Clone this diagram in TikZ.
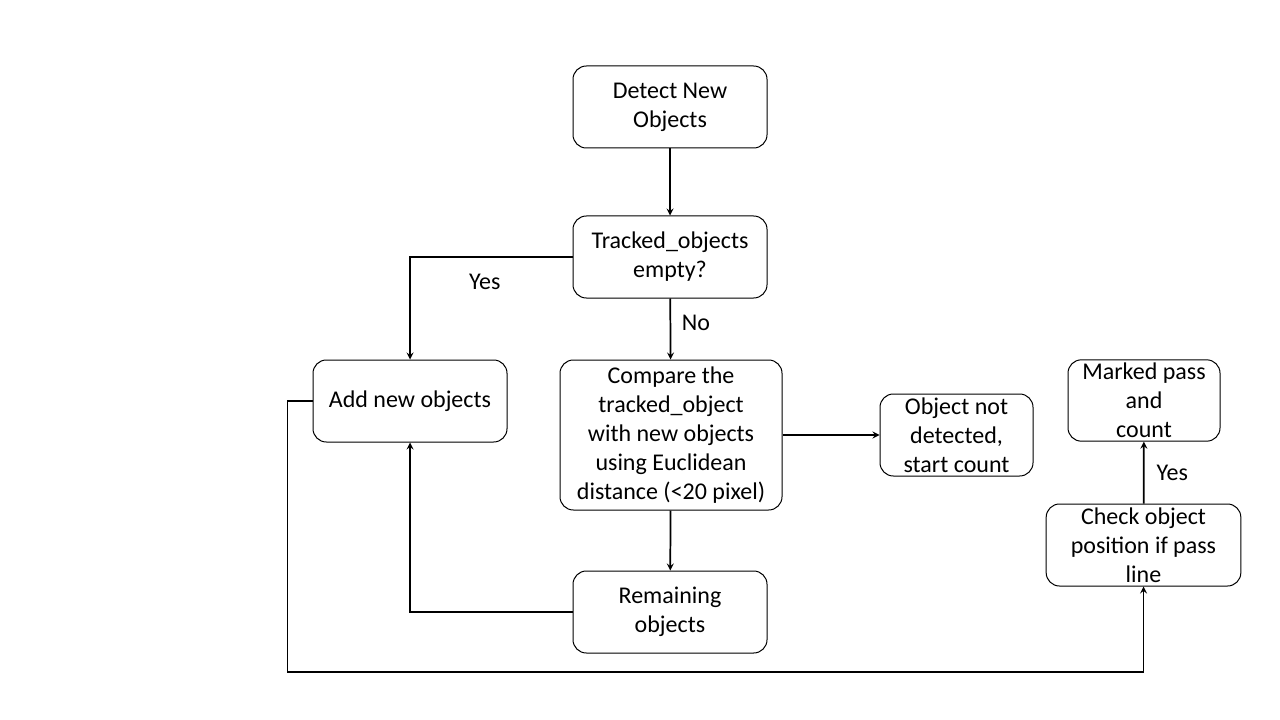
\documentclass[tikz,border=0pt]{standalone}
\usepackage{fontspec}
\setmainfont{Carlito}
\usepackage{tikz}

\begin{document}
\begin{tikzpicture}[x=0.75pt,y=-0.75pt,node distance=112.5pt]
	\tikzstyle{block} = [rectangle, rounded corners=10pt, draw=black, line width=0.75pt, fill=white, align=center, inner sep=0pt, minimum height=61.5pt, minimum width=145.5pt, font=\fontsize{18}{21.75}\selectfont];
	\tikzstyle{lbl} = [inner sep=0pt, font=\fontsize{18}{21.75}\selectfont];
	\useasboundingbox (0,0) rectangle (1280,720);
	\node (detect) [block] at (670,107) {Detect New\\Objects};
	\node (tracked) [block, below of=detect] {Tracked\_objects\\empty?};
	\node (add) [block] at (410,401) {Add new objects};
	\node (compare) [block, minimum width=166.5pt, minimum height=112.5pt] at (671,435) {Compare the\\tracked\_object\\with new objects\\using Euclidean\\distance (<20 pixel)};
	\node (notdetected) [block, minimum width=114.75pt] at (956.5,435) {Object not\\detected,\\start count};
	\node (marked) [block, minimum width=114pt, minimum height=61pt] at (1144,400.5) {Marked pass\\and\\count};
	\node (check) [block, minimum width=146pt] at (1143.5,545) {Check object\\position if pass\\line};
	\node (remaining) [block] at (670,612) {Remaining\\objects};
	\draw [line width=1.3pt,->,>=stealth] (detect) -- (tracked);
	\draw [line width=1.3pt,->,>=stealth] (tracked.west) -| node[lbl, pos=0.27, below=12pt] {Yes} (add.north);
	\draw [line width=1.3pt,->,>=stealth] (tracked) -- node[lbl, pos=0.4, right=8pt] {No} (compare);
	\draw [line width=1.3pt,->,>=stealth] (compare) -- (notdetected);
	\draw [line width=1.3pt,->,>=stealth] (compare) -- (remaining);
	\draw [line width=1.3pt,->,>=stealth] (remaining.west) -| (add.south);
	\draw [line width=1.3pt,->,>=stealth] (add.west) -- ++(-25,0) -- ++(0,271) -| (check.south);
	\draw [line width=1.3pt,->,>=stealth] (check) -- node[lbl, pos=0.5, right=9pt] {Yes} (marked);
\end{tikzpicture}
\end{document}
